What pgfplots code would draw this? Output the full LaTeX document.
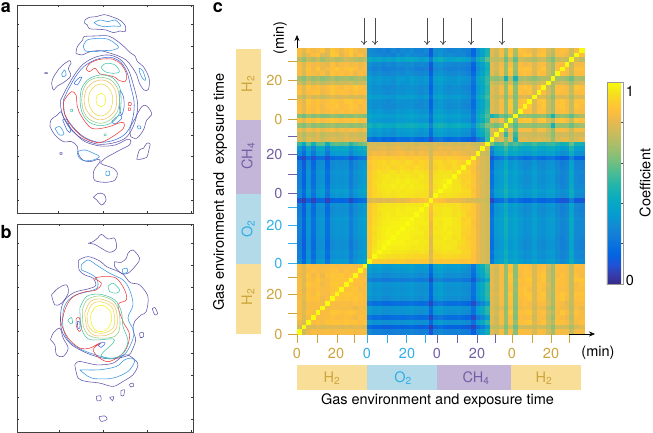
\documentclass[border=0pt]{standalone}
\usepackage{fontspec}
\setmainfont{TeX Gyre Heros}
\usepackage{pgfplots}
\usepackage{pgfplotstable}
\pgfplotsset{compat=1.18}
\usetikzlibrary{arrows.meta}
\definecolor{goldc}{RGB}{205,165,60}
\definecolor{purc}{RGB}{115,95,165}
\definecolor{skyc}{RGB}{50,175,230}
\definecolor{h2bg}{RGB}{248,222,150}
\definecolor{chbg}{RGB}{195,182,216}
\definecolor{o2bg}{RGB}{178,218,232}
\definecolor{cp}{RGB}{95,85,170}
\definecolor{cb}{RGB}{60,110,225}
\definecolor{cl}{RGB}{55,150,225}
\definecolor{cr}{RGB}{235,60,60}
\definecolor{ct}{RGB}{70,195,170}
\definecolor{cg}{RGB}{150,205,125}
\definecolor{cq}{RGB}{240,190,100}
\definecolor{cv}{RGB}{235,215,70}
\definecolor{cy}{RGB}{245,240,30}
\pgfplotsset{
  colormap={parula}{
    rgb=(.2081,.1663,.5292) rgb=(.2081,.2386,.6771) rgb=(.1253,.3242,.8303) rgb=(.0117,.3875,.8820)
    rgb=(.0329,.4430,.8720) rgb=(.0723,.4887,.8467) rgb=(.0749,.5375,.8263) rgb=(.0343,.5966,.8199)
    rgb=(.0231,.6418,.7913) rgb=(.0384,.6743,.7436) rgb=(.1133,.7015,.6859) rgb=(.2178,.7250,.6193)
    rgb=(.3482,.7424,.5473) rgb=(.4871,.7491,.4840) rgb=(.6099,.7473,.4337) rgb=(.7184,.7411,.3905)
    rgb=(.8185,.7327,.3498) rgb=(.9139,.7258,.3063) rgb=(.9938,.7455,.2403) rgb=(.9880,.8066,.1794)
    rgb=(.9589,.8949,.1132) rgb=(.9763,.9831,.0538)
  },
  contourbox/.style={
    scale only axis, width=175.5pt, height=208pt, y dir=reverse,
    axis line style={draw=black!75, line width=.5pt},
    tick align=inside, tick pos=both, major tick length=2pt,
    tick style={black!80, line width=.4pt},
    xticklabels={}, yticklabels={},
    every axis plot/.append style={line width=.55pt, smooth, tension=.55, no marks},
  },
}
% cross-correlation of the frames, rows from the top (row 60) down to row 0, values in percent
\pgfplotstableread[header=false]{
85 80 86 83 84 87 80 88 85 82 86 88 84 82 83 29 27 25 27 24 28 25 29 27 30 26 25 28 12 30 31 29 26 27 28 26 25 15 31 38 47 81 76 84 68 86 70 87 85 83 79 84 86 78 72 85 86 84 76 84 100
84 76 82 85 87 79 78 89 88 80 84 89 83 86 82 30 28 29 26 27 25 30 27 31 29 28 27 26 13 29 33 28 30 28 27 29 24 16 32 36 48 80 74 85 66 88 68 85 88 87 78 86 88 76 70 84 85 82 74 100 86
72 66 74 70 75 68 72 74 70 72 76 74 72 70 73 42 38 40 37 39 36 41 38 40 41 39 35 38 24 41 44 40 37 39 41 38 36 27 43 48 58 74 72 75 60 74 58 76 74 72 70 74 76 68 62 74 75 73 100 76 72
84 78 85 83 84 82 80 86 82 84 85 83 84 82 84 31 28 29 26 28 27 30 29 28 31 27 28 27 13 30 32 29 28 27 29 27 26 16 33 37 47 80 76 83 66 84 66 85 83 84 78 84 85 76 68 84 85 100 74 84 84
85 80 87 83 88 82 84 86 89 85 87 88 86 83 85 28 25 27 24 25 26 27 26 28 27 25 24 26 10 28 30 27 25 26 27 25 23 13 30 35 45 81 77 84 66 88 66 86 88 87 79 85 88 76 68 85 100 85 76 87 86
84 77 86 84 83 85 80 87 85 86 84 86 82 85 83 32 29 30 28 27 29 30 29 31 30 28 27 29 14 31 33 30 28 29 30 28 26 17 33 38 48 80 74 84 66 86 64 85 86 85 78 86 85 76 68 100 86 84 74 85 85
68 64 70 66 69 64 67 70 66 68 69 66 68 70 67 36 33 35 32 33 31 35 34 33 36 33 32 34 18 35 38 34 33 32 35 32 31 21 38 43 52 66 64 68 46 70 46 68 70 67 64 68 70 70 100 68 68 66 60 70 68
76 70 78 73 76 72 74 77 74 76 75 78 73 75 76 35 32 34 31 32 30 34 33 32 35 33 31 33 17 34 37 33 32 33 34 31 30 20 37 41 52 76 72 76 64 78 60 76 78 76 72 76 78 100 70 76 78 75 68 76 78
85 80 87 84 86 83 85 88 86 84 87 85 88 86 84 33 30 31 29 29 28 31 30 31 32 30 28 30 15 32 34 31 29 30 31 29 27 18 34 39 49 80 76 84 66 88 64 86 88 87 78 86 100 76 68 86 86 84 74 88 86
86 80 85 86 87 82 84 88 85 87 86 84 87 85 86 34 31 32 30 29 30 32 31 33 33 31 29 31 16 33 35 32 30 31 32 30 28 19 35 40 50 80 76 84 66 86 64 86 85 87 78 100 85 78 68 86 85 84 74 85 86
78 72 80 76 78 74 76 80 77 78 79 76 78 77 78 38 35 36 34 34 33 36 35 36 37 34 33 35 20 37 39 36 34 35 36 33 32 22 39 44 54 78 74 78 64 78 62 78 80 76 100 78 78 72 64 78 78 78 70 78 78
84 79 88 85 87 84 86 88 87 85 88 89 86 87 85 33 31 31 30 29 30 32 31 31 32 30 29 30 15 32 35 31 30 31 32 29 28 18 34 39 49 80 76 84 66 88 64 86 88 100 78 87 88 76 68 86 88 84 74 87 87
85 80 87 85 86 83 86 87 88 85 86 88 87 84 86 33 30 31 29 28 29 31 30 31 32 29 28 30 15 32 34 31 29 30 31 29 27 18 34 39 49 80 76 84 66 88 64 86 100 88 78 85 88 76 68 86 88 84 74 88 85
85 79 86 84 87 83 85 86 84 86 85 87 85 84 85 36 33 34 32 31 32 34 33 34 35 33 31 32 18 35 37 34 32 33 34 31 30 21 37 42 52 80 76 84 66 86 64 100 86 86 78 86 86 76 68 85 86 84 74 85 84
64 60 66 62 65 62 63 66 64 62 65 63 66 64 63 40 37 38 36 36 35 38 37 38 39 37 35 37 22 39 41 38 36 37 38 35 34 24 41 46 56 46 52 60 56 64 100 64 66 64 62 64 66 60 46 64 66 64 58 66 70
85 80 87 84 88 84 86 88 87 85 87 86 88 85 86 36 34 34 33 32 33 35 34 35 36 34 32 33 19 36 38 35 33 34 35 32 31 22 38 43 53 80 76 84 66 100 64 86 88 88 78 86 88 78 70 86 88 84 74 88 86
66 62 68 64 66 64 66 68 65 66 67 64 66 65 68 46 42 44 41 42 40 44 43 44 45 43 41 43 27 44 47 44 42 43 44 41 40 31 47 52 62 64 60 66 100 66 56 66 66 66 64 66 66 64 46 66 66 66 60 66 68
83 78 84 82 84 81 83 85 82 84 83 85 84 82 84 38 34 36 33 34 32 36 35 36 37 35 33 35 20 37 39 36 34 35 36 33 32 23 39 44 54 80 76 100 66 84 60 84 84 84 78 84 84 76 66 84 85 83 75 85 84
76 70 76 74 78 72 75 76 74 76 78 75 76 74 76 36 32 34 31 32 30 34 33 34 35 32 31 33 18 35 37 34 32 33 34 31 30 21 37 42 52 76 100 76 52 76 52 76 76 76 74 76 76 72 64 76 76 76 72 76 76
78 72 80 77 79 75 78 80 78 77 80 78 79 77 78 20 17 19 16 17 15 19 18 18 20 17 16 18 9 20 22 18 17 18 19 16 15 11 22 27 52 100 76 80 64 80 46 80 80 78 78 80 78 76 66 78 80 80 74 78 81
52 41 58 45 57 58 44 56 59 57 58 50 56 60 62 76 78 76 78 75 77 78 76 77 78 75 78 76 76 78 77 76 78 76 77 76 78 74 74 78 100 62 52 54 62 53 56 52 49 50 54 50 49 52 53 48 45 47 58 47 46
34 23 40 27 40 41 27 39 41 40 41 32 39 42 44 80 78 80 81 79 80 82 80 78 80 79 80 81 76 80 82 80 81 79 80 78 80 78 76 100 78 28 42 44 52 43 46 42 39 40 44 40 39 42 43 38 35 37 48 37 36
29 18 35 22 35 36 22 34 36 35 36 27 34 37 39 82 84 83 84 82 83 84 85 83 84 82 84 83 76 84 83 84 82 84 83 82 80 80 100 76 74 23 37 39 47 38 41 37 34 35 39 35 34 37 38 33 30 32 43 32 31
12 7 18 9 18 19 9 17 19 18 19 10 17 20 22 86 89 88 90 89 90 88 90 89 88 90 89 88 78 89 90 88 90 89 88 87 86 100 80 78 76 11 20 22 30 21 24 20 17 18 22 18 17 20 21 16 13 15 26 15 14
23 12 29 16 29 30 16 28 30 29 30 21 28 31 33 88 91 92 93 91 93 92 91 93 92 90 92 91 78 92 93 91 92 93 91 90 100 88 82 78 76 17 31 33 41 32 35 31 28 29 33 29 28 31 32 27 24 26 37 26 25
24 13 30 17 30 31 17 29 31 30 31 22 29 32 34 87 91 92 92 93 91 92 93 92 91 93 92 91 78 91 93 92 91 93 92 100 90 87 80 78 76 18 32 34 42 33 36 32 29 30 34 30 29 32 33 28 25 27 38 27 26
26 15 32 19 32 33 19 31 33 32 33 24 31 34 36 88 92 94 93 94 95 93 95 94 93 95 94 93 80 93 95 94 95 93 100 92 92 87 82 78 76 20 34 36 44 35 38 34 31 32 36 32 31 34 35 30 27 29 40 29 28
25 14 31 18 31 32 18 30 32 31 32 23 30 33 35 89 92 94 95 96 95 96 95 96 95 94 96 94 80 94 95 96 95 100 93 91 91 88 82 78 76 19 33 35 43 34 37 33 30 31 35 31 30 33 34 29 26 28 39 28 27
25 14 31 18 31 32 18 30 32 31 32 23 30 33 35 88 93 94 96 95 96 97 96 97 96 96 95 94 80 95 96 97 100 95 94 91 92 88 81 79 75 19 33 35 43 34 37 33 30 31 35 31 30 33 34 29 26 28 39 28 27
26 15 32 19 32 33 19 31 33 32 33 24 31 34 36 89 92 95 96 96 97 96 97 96 97 96 96 95 82 94 96 100 97 95 95 92 91 88 82 78 76 20 34 36 44 35 38 34 31 32 36 32 31 34 35 30 27 29 40 29 28
29 18 35 22 35 36 22 34 36 35 36 27 34 37 39 88 92 94 95 96 95 96 95 96 96 95 95 94 80 95 100 96 96 95 95 93 93 87 82 78 76 23 37 39 47 38 41 37 34 35 39 35 34 37 38 33 30 32 43 32 31
27 16 33 20 33 34 20 32 34 33 34 25 32 35 37 88 92 93 94 95 94 95 96 95 95 94 94 94 80 100 95 94 95 94 93 92 92 88 82 78 76 21 35 37 45 36 39 35 32 33 37 33 32 35 36 31 28 30 41 30 29
9 5 15 6 15 16 6 14 16 15 16 7 14 17 19 78 80 78 80 79 80 82 80 82 84 84 86 88 100 88 86 84 82 82 82 80 78 78 76 76 74 7 17 19 27 18 21 17 14 15 19 15 14 17 18 13 10 12 23 12 11
25 14 31 18 31 32 18 30 32 31 32 23 30 33 35 88 92 94 95 96 95 96 95 96 96 96 96 100 88 94 94 95 94 94 94 91 91 88 82 78 76 19 33 35 43 34 37 33 30 31 35 31 30 33 34 29 26 28 39 28 27
24 13 30 17 30 31 17 29 31 30 31 22 29 32 34 88 92 95 96 96 96 97 96 97 97 97 100 96 86 95 95 96 96 94 94 92 91 88 82 78 76 18 32 34 42 33 36 32 29 30 34 30 29 32 33 28 25 27 38 27 26
25 14 31 18 31 32 18 30 32 31 32 23 30 33 35 89 92 94 96 97 96 97 97 97 97 100 97 96 84 94 95 96 96 94 95 93 90 88 82 78 76 19 33 35 43 34 37 33 30 31 35 31 30 33 34 29 26 28 39 28 27
27 16 33 20 33 34 20 32 34 33 34 25 32 35 37 88 93 95 96 97 97 97 98 98 100 97 97 96 84 96 96 97 97 96 95 91 92 88 82 78 76 21 35 37 45 36 39 35 32 33 37 33 32 35 36 31 28 30 41 30 29
26 15 32 19 32 33 19 31 33 32 33 24 31 34 36 89 93 95 97 97 98 98 98 100 98 97 97 97 82 96 95 97 97 96 95 92 92 87 82 78 76 20 34 36 44 35 38 34 31 32 36 32 31 34 35 30 27 29 40 29 28
26 15 32 19 32 33 19 31 33 32 33 24 31 34 36 90 94 96 97 98 98 98 100 98 98 97 96 96 82 95 96 97 96 95 95 92 91 88 82 78 76 20 34 36 44 35 38 34 31 32 36 32 31 34 35 30 27 29 40 29 28
26 15 32 19 32 33 19 31 33 32 33 24 31 34 36 89 93 96 97 98 98 100 98 98 97 97 97 95 82 96 96 96 97 95 96 91 91 88 82 78 76 20 34 36 44 35 38 34 31 32 36 32 31 34 35 30 27 29 40 29 28
25 14 31 18 31 32 18 30 32 31 32 23 30 33 35 89 94 96 97 98 100 98 98 98 97 96 96 95 80 95 95 97 96 94 95 92 90 88 82 78 76 19 33 35 43 34 37 33 30 31 35 31 30 33 34 29 26 28 39 28 27
24 13 30 17 30 31 17 29 31 30 31 22 29 32 34 89 94 97 98 100 98 98 98 97 97 97 96 96 79 96 96 96 95 96 94 93 91 88 82 78 76 18 32 34 42 33 36 32 29 30 34 30 29 32 33 28 25 27 38 27 26
24 13 30 17 30 31 17 29 31 30 31 22 29 32 34 90 95 97 100 98 97 97 97 97 96 96 96 95 80 95 95 96 96 95 93 92 91 88 82 78 76 18 32 34 42 33 36 32 29 30 34 30 29 32 33 28 25 27 38 27 26
26 15 32 19 32 33 19 31 33 32 33 24 31 34 36 90 96 100 97 97 96 96 96 95 95 94 95 94 78 93 94 95 94 94 95 92 92 87 82 78 76 20 34 36 44 35 38 34 31 32 36 32 31 34 35 30 27 29 40 29 28
25 14 31 18 31 32 18 30 32 31 32 23 30 33 35 90 100 96 95 94 94 93 94 93 93 92 92 92 80 92 92 93 93 92 92 91 91 87 82 78 76 19 33 35 43 34 37 33 30 31 35 31 30 33 34 29 26 28 39 28 27
28 17 34 21 34 35 21 33 35 34 35 26 33 36 38 100 90 90 90 89 89 90 90 88 88 89 88 88 78 88 88 89 88 89 88 87 88 86 82 78 76 22 36 38 46 37 40 36 33 34 38 34 33 36 37 32 29 31 42 31 30
84 80 86 84 85 83 84 85 84 85 84 86 84 85 100 38 35 36 34 34 35 36 35 36 37 34 33 35 20 37 39 36 35 35 36 34 32 22 39 44 54 82 78 84 66 86 64 86 86 85 78 84 85 78 68 85 86 84 74 86 85
84 80 85 86 84 84 85 86 87 84 86 85 86 100 85 36 33 34 32 32 33 34 33 34 35 33 32 33 18 35 37 34 33 33 34 32 30 20 37 42 52 80 76 84 66 85 64 85 87 86 78 85 86 76 68 85 85 84 74 85 85
83 80 87 83 86 82 86 88 87 88 86 87 100 86 84 33 30 31 29 29 30 31 30 31 32 30 29 30 15 32 34 31 30 30 31 29 28 18 34 39 49 80 76 84 66 88 64 84 87 86 78 86 88 76 68 84 87 84 74 86 84
85 78 86 85 88 84 84 87 88 87 88 100 87 86 86 26 23 24 22 22 23 24 23 24 25 23 22 23 8 25 27 24 23 23 24 22 21 11 27 32 42 81 76 84 66 87 66 86 86 89 78 85 88 76 68 86 86 84 74 88 88
84 80 88 86 87 83 85 88 89 87 100 88 86 86 84 35 32 33 31 31 32 33 32 33 34 32 31 32 17 34 36 33 32 32 33 31 30 20 36 41 51 81 76 84 66 86 64 85 86 87 78 87 86 78 68 86 86 84 74 84 86
84 78 86 85 86 84 85 87 88 100 87 87 88 84 85 34 31 32 30 30 31 32 31 32 33 31 30 31 16 33 35 32 31 31 32 30 29 19 35 40 50 80 76 84 66 85 66 86 88 85 78 87 85 76 70 85 85 84 74 85 85
85 80 87 84 88 84 84 88 100 88 89 88 87 87 84 35 32 33 31 31 32 33 32 33 34 32 31 32 17 34 36 33 32 32 33 31 30 20 36 41 51 82 78 84 66 88 64 86 88 88 78 86 88 76 68 86 88 85 74 87 87
84 80 87 86 87 83 85 100 88 87 88 87 88 86 85 33 30 31 29 29 30 31 30 31 32 30 29 30 15 32 34 31 30 30 31 29 28 18 34 39 49 80 76 84 66 87 64 85 86 88 78 86 87 76 68 86 88 84 74 86 86
85 78 85 84 85 83 100 85 84 85 85 84 86 85 84 21 18 19 17 17 18 19 18 19 20 18 17 18 7 20 22 19 18 18 19 17 16 8 22 27 37 80 76 84 66 86 64 84 86 84 78 84 85 78 68 85 84 80 74 85 85
84 78 84 85 84 100 83 84 84 84 84 84 82 84 83 35 32 33 31 31 32 33 32 33 34 32 31 32 17 34 36 33 32 32 33 31 30 20 36 41 51 78 74 80 64 84 62 83 84 84 76 83 82 72 66 84 83 82 72 84 82
84 80 86 84 100 85 85 88 88 86 87 88 86 84 85 34 31 32 30 30 31 32 31 32 33 31 30 31 16 33 35 32 31 31 32 30 29 19 35 40 50 81 76 84 66 88 64 86 87 88 78 85 86 76 70 84 88 84 74 87 84
85 78 84 100 84 84 85 86 85 85 86 85 83 86 84 21 18 19 17 17 18 19 18 19 20 18 17 18 7 20 22 19 18 18 19 17 16 8 22 27 37 80 74 84 66 85 62 85 84 85 76 85 84 74 66 85 84 82 72 85 84
82 78 100 84 86 84 87 87 87 86 88 86 87 85 86 34 31 32 30 30 31 32 31 32 33 31 30 31 16 33 35 32 31 31 32 30 29 19 35 40 50 80 76 84 66 86 66 86 87 88 78 84 87 76 70 86 86 84 74 84 86
76 100 78 78 80 78 78 80 80 78 80 78 80 80 78 17 14 15 13 13 14 15 14 15 16 14 13 14 5 16 18 15 14 14 15 13 12 7 18 23 33 74 72 76 62 76 60 76 76 76 74 76 76 72 64 76 76 76 70 76 80
100 76 82 85 84 84 85 84 85 84 84 85 83 84 84 28 25 26 24 24 25 26 25 26 27 25 24 25 10 27 29 26 25 25 26 24 23 13 29 34 44 80 76 84 66 84 64 85 85 84 78 85 84 76 68 84 84 84 74 84 84
}\hm
\begin{document}
\begin{tikzpicture}[font=\fontsize{14.5}{17}\selectfont]
\useasboundingbox (0pt,0pt) rectangle (653pt,-433pt);

% panel a, contours in crop coordinates
\begin{axis}[contourbox, at={(17.3pt,-213.3pt)}, anchor=south west,
  xmin=52, xmax=578, ymin=16, ymax=640,
  xtick={175,308,440,573}, ytick={73,140,205,270,338,405,470,537,602}]
\addplot[cp] coordinates {(255,60)(268,52)(290,50)(312,44)(340,52)(362,62)(376,78)(375,95)(360,93)(340,98)(318,90)(295,88)(268,86)(262,75)(254,70)(255,60)};
\addplot[cp] coordinates {(228,160)(232,140)(248,120)(252,110)(285,108)(325,108)(350,122)(372,140)(390,158)(405,168)(412,185)(430,200)(447,235)(445,268)(432,270)(418,250)(410,225)(395,200)(378,180)(355,168)(325,158)(300,152)(270,155)(245,165)(228,160)};
\addplot[cp] coordinates {(155,250)(160,232)(178,205)(188,195)(208,182)(213,190)(205,205)(212,228)(190,248)(172,258)(160,270)(155,250)};
\addplot[cp] coordinates {(150,380)(153,360)(172,345)(183,335)(190,352)(205,375)(225,400)(255,425)(300,438)(345,435)(382,418)(392,422)(388,435)(360,450)(338,462)(315,475)(302,490)(318,497)(340,505)(352,520)(345,540)(320,547)(285,542)(280,520)(285,505)(300,485)(295,478)(270,485)(248,480)(235,462)(232,440)(215,425)(190,425)(165,405)(150,380)};
\addplot[cp] coordinates {(392,410)(390,385)(405,355)(425,320)(440,318)(455,342)(440,360)(430,390)(410,415)(392,410)};
\addplot[cp] coordinates {(410,478)(418,450)(430,445)(440,430)(450,432)(445,455)(440,472)(420,478)(410,478)};
\addplot[cp] coordinates {(280,592)(295,580)(312,583)(318,600)(305,615)(290,600)(280,592)};
\addplot[cp] coordinates {(182,300)(198,268)(225,222)(250,192)(285,172)(325,165)(360,178)(385,210)(400,255)(412,305)(410,345)(397,385)(375,415)(335,430)(290,432)(245,415)(210,385)(190,350)(182,320)(182,300)};
\addplot[cp] coordinates {(134,218)(142,218)(142,221)(134,220)(134,218)};
\addplot[cp] coordinates {(180,458)(186,458)(186,463)(180,463)(180,458)};
\addplot[cb] coordinates {(190,300)(205,268)(230,225)(255,197)(290,178)(330,172)(360,185)(380,215)(392,260)(402,305)(400,345)(388,385)(365,410)(330,424)(290,426)(250,410)(218,380)(195,345)(190,300)};
\addplot[cb] coordinates {(222,250)(235,235)(245,232)(232,255)(222,250)};
\addplot[cb] coordinates {(360,270)(370,290)(372,320)(365,345)(358,320)(360,270)};
\addplot[cb] coordinates {(335,365)(358,345)(365,355)(345,372)(335,365)};
\addplot[cb] coordinates {(188,360)(200,358)(212,395)(202,392)(188,360)};
\addplot[cl] coordinates {(250,137)(262,120)(295,115)(325,118)(355,140)(340,150)(310,152)(280,155)(255,152)(250,137)};
\addplot[cl] coordinates {(282,68)(300,60)(325,65)(345,60)(362,78)(340,78)(315,80)(295,76)(282,68)};
\addplot[cl] coordinates {(185,222)(194,210)(198,226)(188,230)(185,222)};
\addplot[cl] coordinates {(418,205)(428,212)(437,240)(428,236)(418,215)(418,205)};
\addplot[cl] coordinates {(232,455)(255,450)(285,462)(298,470)(280,480)(250,482)(235,470)(232,455)};
\addplot[cl] coordinates {(165,385)(180,380)(192,402)(178,405)(165,385)};
\addplot[cl] coordinates {(412,378)(420,378)(422,386)(414,386)(412,378)};
\addplot[cl] coordinates {(318,514)(328,514)(328,526)(318,526)(318,514)};
\addplot[cr] coordinates {(258,208)(270,190)(300,178)(340,178)(365,195)(380,225)(375,245)(355,240)(345,232)(320,225)(300,222)(285,205)(268,215)(258,208)};
\addplot[cr] coordinates {(200,290)(215,275)(228,285)(232,320)(245,350)(275,385)(320,382)(360,368)(372,370)(370,385)(345,405)(300,428)(255,415)(220,385)(195,345)(190,310)(200,290)};
\addplot[cr] coordinates {(385,308)(393,308)(393,316)(385,316)(385,308)};
\addplot[cr] coordinates {(385,324)(391,324)(391,331)(385,331)(385,324)};
\addplot[ct] coordinates {(303,202)(318,190)(345,195)(358,215)(340,220)(315,215)(303,202)};
\addplot[ct] coordinates {(240,300)(245,265)(265,238)(300,225)(335,232)(358,260)(363,300)(358,340)(335,368)(300,377)(265,365)(245,335)(240,300)};
\addplot[ct] coordinates {(212,328)(218,328)(218,334)(212,334)(212,328)};
\addplot[ct] coordinates {(312,402)(318,402)(318,407)(312,407)(312,402)};
\addplot[cg] coordinates {(245,300)(250,268)(268,242)(300,232)(332,240)(352,265)(358,300)(352,335)(330,360)(300,370)(268,358)(250,332)(245,300)};
\addplot[cq] coordinates {(252,300)(258,270)(275,250)(302,240)(328,248)(345,270)(350,300)(345,330)(325,352)(300,360)(275,350)(258,328)(252,300)};
\addplot[cv] coordinates {(265,300)(270,275)(285,258)(303,252)(322,260)(335,280)(338,300)(333,325)(318,343)(300,348)(282,340)(270,322)(265,300)};
\addplot[cy] coordinates {(288,300)(292,287)(303,280)(313,286)(317,300)(313,314)(303,320)(292,314)(288,300)};
\end{axis}

% panel b
\begin{axis}[contourbox, at={(17.3pt,-432pt)}, anchor=south west,
  xmin=52, xmax=580, ymin=27, ymax=652,
  xtick={177,310,443,575}, ytick={85,150,217,283,350,415,481,548,613}]
\addplot[cp] coordinates {(265,85)(280,80)(295,68)(305,58)(325,72)(345,70)(350,100)(330,112)(305,100)(285,88)(265,85)};
\addplot[cp] coordinates {(345,140)(365,142)(380,130)(385,115)(400,105)(420,130)(410,150)(385,175)(365,175)(345,155)(345,140)};
\addplot[cp] coordinates {(237,135)(265,125)(300,138)(320,155)(345,165)(370,178)(392,203)(420,210)(445,245)(440,290)(425,300)(405,320)(400,345)(408,375)(398,405)(385,422)(340,432)(300,428)(250,410)(210,385)(185,345)(183,290)(195,255)(225,232)(265,222)(288,212)(280,190)(255,180)(238,165)(237,135)};
\addplot[cp] coordinates {(155,240)(175,220)(200,210)(205,235)(185,265)(165,270)(155,240)};
\addplot[cp] coordinates {(152,375)(160,355)(180,340)(190,370)(205,400)(190,425)(170,420)(165,390)(152,375)};
\addplot[cp] coordinates {(225,450)(240,440)(290,450)(340,445)(375,420)(400,430)(415,450)(400,480)(370,500)(340,515)(300,505)(260,500)(235,490)(225,450)};
\addplot[cp] coordinates {(458,282)(466,278)(474,296)(466,300)(458,282)};
\addplot[cp] coordinates {(420,355)(430,352)(432,365)(422,368)(420,355)};
\addplot[cp] coordinates {(290,545)(302,543)(304,556)(292,558)(290,545)};
\addplot[cp] coordinates {(330,548)(342,546)(338,558)(330,548)};
\addplot[cp] coordinates {(364,528)(374,525)(372,542)(364,542)(364,528)};
\addplot[cp] coordinates {(298,606)(316,604)(322,614)(304,620)(298,606)};
\addplot[cp] coordinates {(390,508)(400,505)(402,514)(392,516)(390,508)};
\addplot[cl] coordinates {(245,150)(265,135)(290,150)(330,175)(370,195)(390,225)(400,270)(385,310)(403,350)(395,385)(375,418)(340,430)(300,424)(240,402)(205,375)(190,340)(190,290)(202,260)(228,240)(265,230)(293,218)(290,190)(262,172)(245,165)(245,150)};
\addplot[cl] coordinates {(240,465)(300,465)(350,455)(375,435)(395,430)(405,440)(385,470)(340,490)(290,492)(265,485)(240,465)};
\addplot[cl] coordinates {(368,163)(382,160)(383,172)(370,175)(368,163)};
\addplot[cr] coordinates {(185,330)(195,285)(215,250)(250,232)(290,225)(305,205)(285,190)(315,185)(350,190)(375,225)(380,255)(355,270)(370,320)(390,360)(375,410)(330,440)(300,430)(280,405)(300,385)(270,400)(240,400)(205,370)(185,330)};
\addplot[cr] coordinates {(229,312)(238,308)(245,340)(238,350)(230,335)(229,312)};
\addplot[cb] coordinates {(233,320)(240,322)(240,340)(234,338)(233,320)};
\addplot[cb] coordinates {(296,392)(308,382)(316,386)(304,398)(296,392)};
\addplot[ct] coordinates {(325,215)(340,205)(360,225)(350,235)(330,230)(325,215)};
\addplot[ct] coordinates {(204,316)(215,308)(218,325)(210,325)(204,316)};
\addplot[ct] coordinates {(240,280)(260,245)(300,238)(345,255)(365,290)(370,335)(385,380)(365,420)(330,432)(305,420)(340,385)(340,372)(300,375)(265,372)(245,340)(240,280)};
\addplot[cg] coordinates {(248,285)(262,255)(300,243)(340,258)(358,290)(360,340)(345,365)(300,370)(265,360)(250,330)(248,285)};
\addplot[cq] coordinates {(255,295)(270,262)(300,252)(340,268)(352,300)(350,340)(325,360)(285,362)(262,340)(255,295)};
\addplot[cv] coordinates {(262,300)(275,270)(300,260)(335,275)(345,310)(340,340)(310,355)(280,350)(265,330)(262,300)};
\addplot[cy] coordinates {(272,305)(285,278)(310,272)(332,290)(335,320)(320,345)(295,350)(278,335)(272,305)};
\end{axis}

% panel c
\begin{axis}[at={(297pt,-334pt)}, anchor=south west, scale only axis, width=286.7pt, height=286pt,
  xmin=-0.5, xmax=60.5, ymin=-0.5, ymax=60.5, ticks=none,
  axis line style={draw=black!60, line width=.6pt},
  colormap name=parula, point meta min=0, point meta max=100,
  colorbar,
  colorbar style={at={(1.0812,0.1748)}, anchor=south west, width=16pt, height=202pt,
    ytick={20,40,60,80}, yticklabels={}, tick align=inside, ytick pos=right,
    major tick length=2pt, tick style={black!70,line width=.3pt},
    axis line style={draw=black!40, line width=.3pt}},
]
\pgfplotsinvokeforeach{0,...,60}{
  \addplot[scatter, only marks, mark=square*, mark size=2.4pt, point meta=explicit,
    scatter/use mapped color={draw=mapped color,fill=mapped color}, mark options={line width=.1pt}]
    table[x expr=#1, y expr=60-\coordindex, meta index=#1]{\hm};
}
\end{axis}

\begin{scope}[x=1pt,y=-1pt]
% gas strips and their labels
\fill[h2bg] (236,49) rectangle (261,120);
\fill[chbg] (236,120) rectangle (261,194);
\fill[o2bg] (236,194) rectangle (261,264);
\fill[h2bg] (236,264) rectangle (261,334);
\node[rotate=90,text=goldc] at (248,84) {H\textsubscript{2}};
\node[rotate=90,text=purc] at (248,156) {CH\textsubscript{4}};
\node[rotate=90,text=skyc] at (248,229) {O\textsubscript{2}};
\node[rotate=90,text=goldc] at (248,297) {H\textsubscript{2}};
\fill[h2bg] (297,365) rectangle (366.5,390);
\fill[o2bg] (366.5,365) rectangle (437,390);
\fill[chbg] (437,365) rectangle (511,390);
\fill[h2bg] (511,365) rectangle (581,390);
\node[text=goldc] at (332,378) {H\textsubscript{2}};
\node[text=skyc] at (403,378) {O\textsubscript{2}};
\node[text=purc] at (476,378) {CH\textsubscript{4}};
\node[text=goldc] at (544,378) {H\textsubscript{2}};

% ticks per gas
\foreach \t in {61,80,99,119,313,294,334,277} \draw[goldc,line width=.7pt] (288,\t)--(297,\t);
\foreach \t in {136,154,174,193} \draw[purc,line width=.7pt] (288,\t)--(297,\t);
\foreach \t in {207,225,243,263} \draw[skyc,line width=.7pt] (288,\t)--(297,\t);
\foreach \t in {297,317,337,354,512,532,551,569} \draw[goldc,line width=.7pt] (\t,334)--(\t,343);
\foreach \t in {367,387,406,425} \draw[skyc,line width=.7pt] (\t,334)--(\t,343);
\foreach \t in {437,457,477,495} \draw[purc,line width=.7pt] (\t,334)--(\t,343);
\node[text=goldc,anchor=east] at (286,80) {20};
\node[text=goldc,anchor=east] at (286,119) {0};
\node[text=purc,anchor=east] at (286,154) {20};
\node[text=purc,anchor=east] at (286,193) {0};
\node[text=skyc,anchor=east] at (286,225) {20};
\node[text=skyc,anchor=east] at (286,263) {0};
\node[text=goldc,anchor=east] at (286,294) {20};
\node[text=goldc,anchor=east] at (286,334) {0};
\node[text=goldc] at (297,353) {0};
\node[text=goldc] at (336,353) {20};
\node[text=skyc] at (367,353) {0};
\node[text=skyc] at (407,353) {20};
\node[text=purc] at (437,353) {0};
\node[text=purc] at (477,353) {20};
\node[text=goldc] at (512,353) {0};
\node[text=goldc] at (551,353) {20};
\node at (598,353) {(min)};
\node[rotate=90] at (280,38) {(min)};
\node at (437.5,401) {Gas environment and exposure time};
\node[rotate=90] at (220,192) {Gas environment and\ \ exposure time};

% axis arrows and the marked frames
\draw[-{Stealth[length=6pt,width=5pt]},black,line width=.6pt] (297,48)--(297,35);
\draw[-{Stealth[length=6pt,width=5pt]},black,line width=.6pt] (569,334)--(595,334);
\foreach \t in {364,375,427,443,471,502}
  \draw[-{To[length=4pt,width=6pt]},black!70,line width=.7pt] (\t,18)--(\t,45);

% colour bar texts
\node at (630,91) {1};
\node at (630,280) {0};
\node[rotate=90] at (645,183) {Coefficient};

% panel letters
\node[font=\fontsize{18}{20}\selectfont\bfseries] at (6,8) {a};
\node[font=\fontsize{18}{20}\selectfont\bfseries] at (6,232) {b};
\node[font=\fontsize{18}{20}\selectfont\bfseries] at (218,8) {c};
\end{scope}
\end{tikzpicture}
\end{document}
